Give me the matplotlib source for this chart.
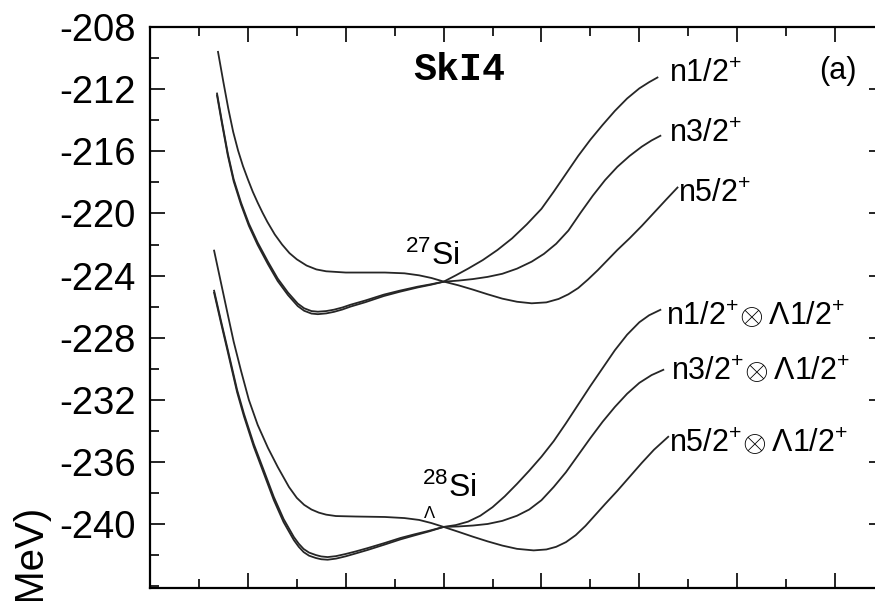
import numpy as np
import matplotlib
matplotlib.use('Agg')
import matplotlib.pyplot as plt
from matplotlib.ticker import MultipleLocator

plt.rcParams['font.family'] = ['Liberation Sans', 'DejaVu Sans']
plt.rcParams['mathtext.fontset'] = 'custom'
plt.rcParams['mathtext.rm'] = 'Liberation Sans'
plt.rcParams['mathtext.it'] = 'Liberation Sans:italic'
plt.rcParams['mathtext.bf'] = 'Liberation Sans:bold'
plt.rcParams['axes.unicode_minus'] = False

# ---- 27Si ----
# n5/2+ : flat on the oblate side, minimum on the prolate side
beta_n52 = [-0.461, -0.450, -0.440, -0.430, -0.420, -0.410, -0.400, -0.390, -0.380, -0.370,
            -0.360, -0.345, -0.330, -0.315, -0.300, -0.280, -0.260, -0.240, -0.200, -0.160,
            -0.120, -0.080, -0.050, -0.025, 0.000, 0.030, 0.060, 0.090, 0.120, 0.150,
            0.180, 0.210, 0.235, 0.255, 0.275, 0.295, 0.315, 0.335, 0.355, 0.380,
            0.405, 0.430, 0.455, 0.478]
e_n52 = [-209.60, -211.55, -213.25, -214.75, -215.95, -216.95, -217.80, -218.60, -219.30, -219.95,
         -220.55, -221.35, -222.00, -222.55, -222.95, -223.35, -223.60, -223.72, -223.80, -223.80,
         -223.80, -223.85, -223.98, -224.15, -224.38, -224.62, -224.90, -225.20, -225.48, -225.68,
         -225.78, -225.72, -225.50, -225.20, -224.80, -224.25, -223.65, -223.00, -222.35, -221.60,
         -220.80, -219.95, -219.10, -218.33]

# n1/2+ and n3/2+ : oblate minimum (left part), then rising on the prolate side
beta_27_left = [-0.463, -0.453, -0.441, -0.429, -0.414, -0.398, -0.380, -0.359, -0.339, -0.318,
                -0.298, -0.285, -0.270, -0.257, -0.240, -0.224, -0.207, -0.190, -0.160, -0.122,
                -0.090, -0.053, -0.025, 0.000]
e_n12_left = [-212.28, -214.08, -216.14, -217.80, -219.30, -220.65, -221.87, -223.10, -224.19, -225.09,
              -225.80, -226.10, -226.28, -226.32, -226.28, -226.19, -226.05, -225.87, -225.60, -225.22,
              -224.97, -224.71, -224.55, -224.39]
e_n32_left = [-212.40, -214.20, -216.26, -217.93, -219.43, -220.79, -222.02, -223.26, -224.35, -225.25,
              -225.96, -226.26, -226.44, -226.48, -226.43, -226.33, -226.18, -225.99, -225.71, -225.31,
              -225.04, -224.76, -224.58, -224.39]

beta_n12_right = [0.025, 0.050, 0.080, 0.110, 0.140, 0.170, 0.200, 0.225, 0.250, 0.275,
                  0.300, 0.325, 0.350, 0.375, 0.400, 0.420, 0.437]
e_n12_right = [-223.98, -223.55, -223.00, -222.35, -221.60, -220.70, -219.70, -218.60, -217.45, -216.30,
               -215.25, -214.30, -213.40, -212.60, -211.95, -211.55, -211.25]

beta_n32_right = [0.030, 0.060, 0.090, 0.120, 0.150, 0.180, 0.205, 0.230, 0.255, 0.280,
                  0.305, 0.330, 0.355, 0.380, 0.405, 0.425, 0.443]
e_n32_right = [-224.32, -224.22, -224.08, -223.88, -223.55, -223.10, -222.60, -221.95, -221.10, -219.95,
               -218.85, -217.85, -217.00, -216.30, -215.70, -215.30, -215.00]

# ---- 28Si_Lambda ----
beta_l52 = [-0.469, -0.462, -0.455, -0.448, -0.441, -0.429, -0.414, -0.398, -0.380, -0.359,
            -0.339, -0.316, -0.300, -0.285, -0.270, -0.255, -0.240, -0.220, -0.180, -0.120,
            -0.080, -0.050, -0.025, 0.000, 0.030, 0.060, 0.090, 0.120, 0.150, 0.184,
            0.210, 0.230, 0.250, 0.270, 0.290, 0.310, 0.330, 0.355, 0.380, 0.405,
            0.430, 0.459]
e_l52 = [-222.39, -223.42, -224.45, -225.48, -226.51, -228.25, -230.12, -231.99, -233.60, -235.08,
         -236.31, -237.60, -238.30, -238.75, -239.05, -239.25, -239.38, -239.47, -239.50, -239.53,
         -239.60, -239.72, -239.92, -240.17, -240.48, -240.80, -241.10, -241.37, -241.58, -241.68,
         -241.62, -241.45, -241.15, -240.70, -240.10, -239.40, -238.70, -237.85, -236.95, -236.05,
         -235.20, -234.37]

beta_28_left = [-0.469, -0.455, -0.441, -0.422, -0.408, -0.388, -0.367, -0.347, -0.327, -0.306,
                -0.296, -0.286, -0.275, -0.261, -0.250, -0.237, -0.220, -0.200, -0.180, -0.155,
                -0.120, -0.088, -0.060, -0.030, 0.000]
e_l12_left = [-224.97, -226.90, -228.77, -231.35, -232.89, -234.83, -236.57, -238.24, -239.66, -240.82,
              -241.25, -241.59, -241.82, -241.98, -242.07, -242.11, -242.05, -241.91, -241.75, -241.53,
              -241.20, -240.88, -240.65, -240.42, -240.17]
e_l32_left = [-225.10, -227.03, -228.91, -231.50, -233.05, -235.00, -236.76, -238.44, -239.86, -241.02,
              -241.45, -241.79, -242.02, -242.17, -242.25, -242.28, -242.21, -242.06, -241.88, -241.65,
              -241.30, -240.97, -240.72, -240.46, -240.17]

beta_l12_right = [0.025, 0.050, 0.075, 0.100, 0.125, 0.150, 0.175, 0.200, 0.225, 0.250,
                  0.275, 0.300, 0.325, 0.350, 0.375, 0.400, 0.420, 0.443]
e_l12_right = [-240.05, -239.83, -239.45, -238.90, -238.20, -237.40, -236.55, -235.65, -234.65, -233.50,
               -232.30, -231.10, -229.95, -228.80, -227.80, -227.00, -226.55, -226.20]

beta_l32_right = [0.030, 0.060, 0.090, 0.120, 0.150, 0.175, 0.200, 0.225, 0.250, 0.275,
                  0.300, 0.325, 0.350, 0.375, 0.400, 0.425, 0.449]
e_l32_right = [-240.14, -240.08, -239.98, -239.78, -239.45, -239.05, -238.45, -237.60, -236.65, -235.55,
               -234.45, -233.40, -232.45, -231.60, -230.90, -230.40, -230.06]

curves = [
    (beta_27_left + beta_n12_right, e_n12_left + e_n12_right),
    (beta_27_left + beta_n32_right, e_n32_left + e_n32_right),
    (beta_n52, e_n52),
    (beta_28_left + beta_l12_right, e_l12_left + e_l12_right),
    (beta_28_left + beta_l32_right, e_l32_left + e_l32_right),
    (beta_l52, e_l52),
]

labels = [r'n1/2$^{+}$', r'n3/2$^{+}$', r'n5/2$^{+}$',
          r'n1/2$^{+}\!\otimes\Lambda$1/2$^{+}$',
          r'n3/2$^{+}\!\otimes\Lambda$1/2$^{+}$',
          r'n5/2$^{+}\!\otimes\Lambda$1/2$^{+}$']

fig = plt.figure(figsize=(8.75, 6.01), dpi=100)
ax = fig.add_axes([150 / 875, 13 / 601, 734 / 875, 561 / 601])

for b, e in curves:
    ax.plot(b, e, color='#262626', lw=1.3)

# label anchors (left, baseline) in data coordinates
label_pos = [(0.461, -211.56), (0.461, -215.37), (0.480, -219.23),
             (0.455, -227.16), (0.465, -230.70), (0.461, -235.34)]
for (x, y), lab in zip(label_pos, labels):
    ax.text(x, y, lab, fontsize=22, ha='left', va='baseline')

ax.text(0.031, -210.75, 'SkI4', fontsize=27.5, fontweight='bold',
        family='Liberation Mono', ha='center', va='center')
ax.text(0.806, -210.85, '(a)', fontsize=22, ha='center', va='center')
ax.text(-0.078, -223.3, r'$^{27}$Si', fontsize=23, ha='left', va='baseline')
ax.text(-0.045, -238.25, r'$^{28}$Si', fontsize=23, ha='left', va='baseline')
ax.text(-0.029, -239.25, r'$\Lambda$', fontsize=12, ha='center', va='center')

ax.set_xlim(-0.6, 0.9)
ax.set_ylim(-244.1, -208)
ax.xaxis.set_major_locator(MultipleLocator(0.2))
ax.xaxis.set_minor_locator(MultipleLocator(0.1))
ax.set_yticks(np.arange(-240, -207, 4))
ax.yaxis.set_minor_locator(MultipleLocator(2))
ax.tick_params(which='both', direction='in', top=True, right=True, width=1.2,
               labelbottom=False, labelsize=27.5, pad=10.5)
ax.tick_params(which='major', length=11)
ax.tick_params(which='minor', length=6.5)
for s in ax.spines.values():
    s.set_linewidth(1.6)

fig.text(33 / 875, 1 - 508 / 601, 'E (MeV)', rotation=90, fontsize=29,
         ha='center', va='top')

fig.savefig('out.png', dpi=100)
